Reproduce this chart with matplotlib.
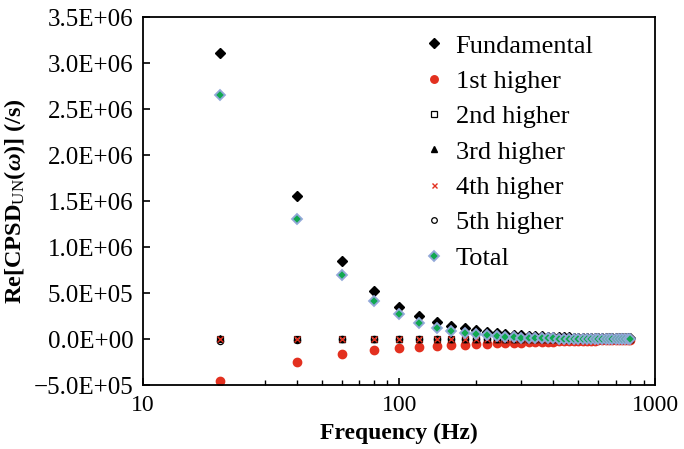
import matplotlib
matplotlib.use("Agg")
import matplotlib.pyplot as plt
from matplotlib.ticker import FuncFormatter, LogLocator, MultipleLocator, NullFormatter

plt.rcParams['font.family'] = ['Liberation Serif', 'DejaVu Serif']
plt.rcParams['mathtext.fontset'] = 'custom'
plt.rcParams['mathtext.rm'] = 'Liberation Serif'
plt.rcParams['mathtext.bf'] = 'Liberation Serif:bold'
plt.rcParams['mathtext.it'] = 'Liberation Serif:italic'
plt.rcParams['mathtext.bfit'] = 'Liberation Serif:bold:italic'

freq = [20 * (i + 1) for i in range(40)]

fundamental = [3.11e6, 1.56e6, 0.85e6, 0.52e6, 0.345e6, 0.25e6, 0.185e6, 0.14e6, 0.115e6, 0.097e6,
               0.080e6, 0.067e6, 0.056e6, 0.048e6, 0.042e6, 0.037e6, 0.033e6, 0.029e6, 0.026e6, 0.023e6,
               0.021e6, 0.019e6, 0.017e6, 0.016e6, 0.015e6, 0.014e6, 0.013e6, 0.012e6, 0.012e6, 0.011e6,
               0.011e6, 0.010e6, 0.010e6, 0.0095e6, 0.009e6, 0.009e6, 0.0085e6, 0.0085e6, 0.008e6, 0.008e6]

first = [-0.457e6, -0.255e6, -0.165e6, -0.122e6, -0.100e6, -0.083e6, -0.075e6, -0.068e6, -0.062e6, -0.057e6,
         -0.052e6, -0.048e6, -0.044e6, -0.041e6, -0.038e6, -0.035e6, -0.033e6, -0.031e6, -0.029e6, -0.027e6,
         -0.026e6, -0.024e6, -0.023e6, -0.022e6, -0.021e6, -0.020e6, -0.019e6, -0.018e6, -0.017e6, -0.016e6,
         -0.016e6, -0.015e6, -0.014e6, -0.014e6, -0.013e6, -0.013e6, -0.012e6, -0.012e6, -0.011e6, -0.011e6]

second = [0.004e6, 0.002e6, 0.001e6, 0.001e6, 0.0008e6, 0.0006e6, 0.0005e6, 0.0004e6, 0.0003e6, 0.0003e6] + [0.0002e6] * 30

third = [0.008e6, 0.004e6, 0.003e6, 0.002e6, 0.0015e6, 0.001e6, 0.0008e6, 0.0006e6, 0.0005e6, 0.0004e6] + [0.0003e6] * 30

fourth = [-0.003e6, -0.002e6, -0.001e6, -0.001e6, -0.0008e6, -0.0006e6, -0.0005e6, -0.0004e6, -0.0003e6, -0.0003e6] + [-0.0002e6] * 30

fifth = [-0.025e6, -0.008e6, -0.004e6, -0.003e6, -0.002e6, -0.0015e6, -0.001e6, -0.0008e6, -0.0006e6, -0.0005e6] + [-0.0003e6] * 30

total = [2.65e6, 1.31e6, 0.70e6, 0.415e6, 0.268e6, 0.175e6, 0.123e6, 0.090e6, 0.068e6, 0.052e6,
         0.040e6, 0.032e6, 0.025e6, 0.020e6, 0.016e6, 0.013e6, 0.011e6, 0.009e6, 0.007e6, 0.006e6,
         0.005e6, 0.004e6, 0.0035e6, 0.003e6, 0.0025e6, 0.002e6, 0.0018e6, 0.0015e6, 0.0012e6, 0.001e6,
         0.0009e6, 0.0008e6, 0.0006e6, 0.0005e6, 0.0004e6, 0.0003e6, 0.0002e6, 0.0001e6, 0.0e6, 0.0e6]

labels = ['Fundamental', '1st higher', '2nd higher', '3rd higher', '4th higher', '5th higher', 'Total']

fig = plt.figure(figsize=(6.84, 4.49), dpi=100)
ax = fig.add_axes([0.209, 0.1425, 0.749, 0.8195])

ax.plot(freq, fundamental, 'D', color='black', ms=5.3, ls='none', label=labels[0], zorder=3)
ax.plot(freq, first, 'o', color='#e3301f', ms=6, mec='#e3301f', ls='none', label=labels[1], zorder=2)
ax.plot(freq, second, 's', mfc='white', mec='black', mew=0.9, ms=5, ls='none', label=labels[2], zorder=3)
ax.plot(freq, third, '^', color='black', ms=4.8, ls='none', label=labels[3], zorder=3)
ax.plot(freq, fourth, 'x', color='#e3301f', ms=4, mew=1.0, ls='none', label=labels[4], zorder=4)
ax.plot(freq, fifth, 'o', mfc='white', mec='black', mew=0.9, ms=4.5, ls='none', label=labels[5], zorder=2)
ax.plot(freq, total, 'D', mfc='#10a850', mec='#92a8d8', mew=1.3, ms=5.6, ls='none', label=labels[6], zorder=4)

ax.set_xscale('log')
ax.set_xlim(10, 1000)
ax.set_ylim(-0.5e6, 3.5e6)
ax.yaxis.set_major_locator(MultipleLocator(0.5e6))

def yfmt(v, pos):
    s = '%.1E' % v
    if s.startswith('-'):
        s = '\u2212' + s[1:]
    return s

ax.yaxis.set_major_formatter(FuncFormatter(yfmt))
ax.xaxis.set_major_formatter(FuncFormatter(lambda v, p: '%d' % v))
ax.xaxis.set_minor_locator(LogLocator(base=10, subs=range(2, 10)))
ax.xaxis.set_minor_formatter(NullFormatter())

ax.tick_params(axis='both', which='major', direction='in', length=5, width=1.2,
               top=False, right=False, pad=7)
ax.tick_params(axis='y', which='major', labelsize=18)
ax.tick_params(axis='x', which='major', labelsize=17)
ax.tick_params(axis='x', which='minor', direction='in', length=3.5, width=1.0, top=False)
for sp in ax.spines.values():
    sp.set_linewidth(1.3)

ax.set_xlabel('Frequency (Hz)', fontsize=17, fontweight='bold', labelpad=5)
ax.set_ylabel(r'$\mathbf{Re[CPSD}_{\mathrm{UN}}\mathbf{(}\mathbfit{\omega}\mathbf{)]\ (/s)}$', fontsize=17.5, labelpad=4)

leg = ax.legend(loc='upper left', bbox_to_anchor=(0.52, 1.0), frameon=False, fontsize=19,
                handlelength=0.6, handletextpad=0.5, labelspacing=0.45, borderaxespad=0.25,
                markerscale=0.9)

fig.savefig('out.png', dpi=100)
